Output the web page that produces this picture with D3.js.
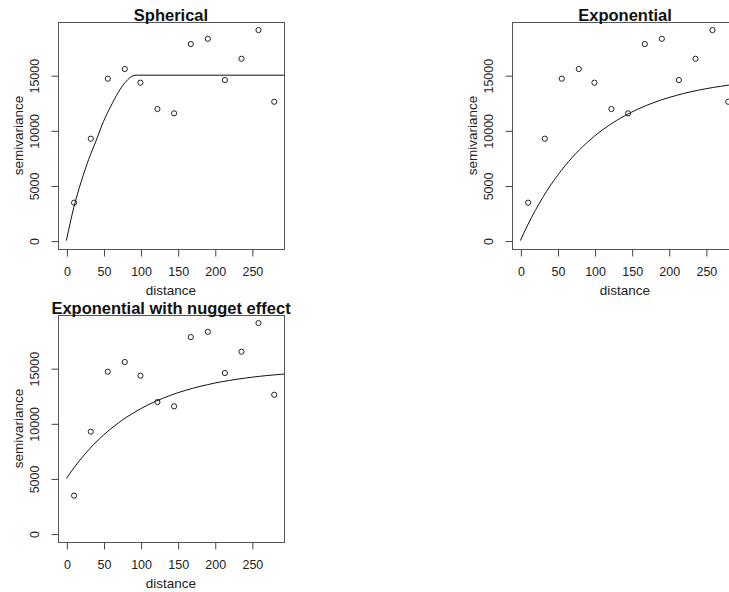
<!DOCTYPE html>
<html>
<head>
<meta charset="utf-8">
<script src="https://cdn.jsdelivr.net/npm/d3@7"></script>
<style>
  body { margin: 0; background: #fff; }
  svg { display: block; font-family: "Liberation Sans", Arial, sans-serif; }
</style>
</head>
<body>
<div id="chart"></div>
<script>
// Sample variogram (same points in every panel)
const distances = [10.4, 32.9, 55.8, 78.7, 99.8, 122.7, 145.2, 167.7, 190.6, 213.6, 236.0, 258.9, 280.1];
const gammas = [3440, 9240, 14680, 15560, 14320, 11930, 11540, 17820, 18300, 14560, 16490, 19090, 12590];

// Fitted model lines
const sphDist = [0, 10, 20, 30, 40, 50, 60, 70, 80, 90, 95, 300];
const sphGamma = [0, 3000, 5350, 7350, 9050, 10800, 12200, 13450, 14400, 14950, 15000, 15000];

const curveDist = [0, 10, 20, 30, 40, 50, 60, 70, 80, 90, 100, 110, 120, 130, 140, 150,
  160, 170, 180, 190, 200, 210, 220, 230, 240, 250, 260, 270, 280, 290, 300];
const expGamma = [0, 1430, 2720, 3890, 4950, 5900, 6770, 7550, 8260, 8900, 9480, 10010, 10480,
  10910, 11300, 11650, 11970, 12260, 12520, 12760, 12970, 13160, 13340, 13500, 13640, 13770,
  13890, 13990, 14090, 14180, 14250];
const nugGamma = [5000, 5950, 6810, 7590, 8300, 8930, 9510, 10030, 10510, 10930, 11320, 11670,
  11990, 12270, 12530, 12770, 12980, 13170, 13350, 13500, 13650, 13780, 13890, 14000, 14090,
  14180, 14260, 14330, 14390, 14450, 14500];

const xTicks = [0, 50, 100, 150, 200, 250];
const yTicks = [0, 5000, 10000, 15000];
const xLimit = [0, 282];
const yLimit = [0, 19060];

const panels = [
  { title: 'Spherical', lineX: sphDist, lineY: sphGamma, left: 58, top: 22 },
  { title: 'Exponential', lineX: curveDist, lineY: expGamma, left: 512, top: 22 },
  { title: 'Exponential with nugget effect', lineX: curveDist, lineY: nugGamma, left: 58, top: 315 }
];

const width = 729, height = 592;
const boxW = 226, boxH = 227;

const svg = d3.select('#chart').append('svg')
  .attr('width', width)
  .attr('height', height);

// R style 4% range expansion
const pad = (lim) => {
  const d = (lim[1] - lim[0]) * 0.04;
  return [lim[0] - d, lim[1] + d];
};

const points = distances.map((d, i) => ({ d: d, g: gammas[i] }));

panels.forEach((p, pi) => {
  const g = svg.append('g').attr('transform', `translate(${p.left},${p.top})`);

  const x = d3.scaleLinear().domain(pad(xLimit)).range([0, boxW]);
  const y = d3.scaleLinear().domain(pad(yLimit)).range([boxH, 0]);

  g.append('clipPath').attr('id', 'clip' + pi)
    .append('rect').attr('width', boxW).attr('height', boxH);

  // model line
  const lineData = p.lineX.map((d, i) => ({ d: d, g: p.lineY[i] }));
  g.append('path')
    .datum(lineData)
    .attr('clip-path', `url(#clip${pi})`)
    .attr('fill', 'none')
    .attr('stroke', '#111')
    .attr('stroke-width', 1)
    .attr('d', d3.line().x(d => x(d.d)).y(d => y(d.g)).curve(d3.curveMonotoneX));

  // points
  g.selectAll('.pt')
    .data(points)
    .enter().append('circle')
    .attr('class', 'pt')
    .attr('cx', d => x(d.d))
    .attr('cy', d => y(d.g))
    .attr('r', 2.6)
    .attr('fill', 'none')
    .attr('stroke', '#222')
    .attr('stroke-width', 1);

  // box
  g.append('rect')
    .attr('x', 0.5).attr('y', 0.5)
    .attr('width', boxW).attr('height', boxH)
    .attr('fill', 'none')
    .attr('stroke', '#555')
    .attr('stroke-width', 1);

  // x axis
  const xa = g.append('g')
    .attr('transform', `translate(0.5,${boxH + 0.5})`)
    .call(d3.axisBottom(x).tickValues(xTicks).tickSize(7).tickPadding(11));
  xa.select('.domain').remove();
  xa.selectAll('line').attr('stroke', '#444');
  xa.selectAll('text')
    .attr('font-size', '12.5px')
    .attr('font-family', '"Liberation Sans", Arial, sans-serif')
    .attr('fill', '#222');

  // y axis, labels parallel to axis
  const ya = g.append('g')
    .attr('transform', 'translate(0.5,0.5)')
    .call(d3.axisLeft(y).tickValues(yTicks).tickSize(7).tickFormat(d3.format('d')));
  ya.select('.domain').remove();
  ya.selectAll('line').attr('stroke', '#444');
  ya.selectAll('text')
    .attr('x', null)
    .attr('dy', null)
    .attr('text-anchor', 'middle')
    .attr('transform', 'translate(-20,0) rotate(-90)')
    .attr('font-size', '12.5px')
    .attr('font-family', '"Liberation Sans", Arial, sans-serif')
    .attr('fill', '#222');

  // labels
  g.append('text')
    .attr('x', boxW / 2)
    .attr('y', boxH + 46)
    .attr('text-anchor', 'middle')
    .attr('font-size', '13.5px')
    .attr('fill', '#222')
    .text('distance');

  g.append('text')
    .attr('transform', `translate(-35.5,${boxH / 2}) rotate(-90)`)
    .attr('text-anchor', 'middle')
    .attr('font-size', '13.5px')
    .attr('fill', '#222')
    .text('semivariance');

  g.append('text')
    .attr('x', boxW / 2)
    .attr('y', -1)
    .attr('text-anchor', 'middle')
    .attr('font-size', '16.5px')
    .attr('font-weight', 'bold')
    .attr('fill', '#111')
    .text(p.title);
});
</script>
</body>
</html>
